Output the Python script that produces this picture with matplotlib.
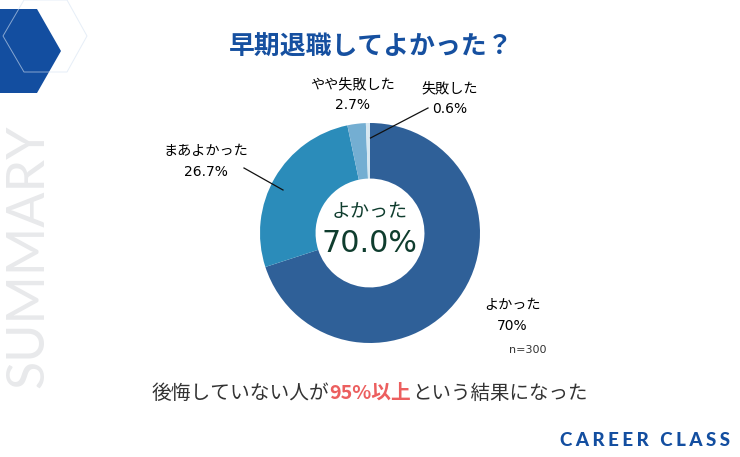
import matplotlib
matplotlib.use('Agg')
import matplotlib.pyplot as plt
from matplotlib.patches import Polygon

plt.rcParams['font.family'] = ['Noto Sans CJK JP', 'DejaVu Sans']

labels = ['よかった', 'まあよかった', 'やや失敗した', '失敗した']
values = [70.0, 26.7, 2.7, 0.6]
value_labels = ['70%', '26.7%', '2.7%', '0.6%']
colors = ['#2f6098', '#2b8cba', '#74aed2', '#d6e7f1']

W, H = 740, 457
fig = plt.figure(figsize=(W / 100, H / 100), dpi=100)

# background layer in pixel coords
bg = fig.add_axes([0, 0, 1, 1])
bg.set_xlim(0, W)
bg.set_ylim(H, 0)
bg.axis('off')

bg.add_patch(Polygon([(0, 9), (37, 9), (61, 51), (37, 93), (0, 93)], color='#134ea0', lw=0))
bg.add_patch(Polygon([(3, 36), (24, 0), (67, 0), (87, 36), (67, 72), (24, 72)],
                     fill=False, ec='#d5e2f2', lw=0.7, alpha=0.6))

bg.text(29, 256.5, 'SUMMARY', rotation=90, ha='center', va='center', fontsize=37.5,
        family=['Lato', 'DejaVu Sans'], color='#e8e9eb')

bg.text(371, 47, '早期退職してよかった？', ha='center', va='center', fontsize=18.6,
        fontweight='bold', color='#1650a0')

# donut
ax = fig.add_axes([260 / W, 1 - 343 / H, 220 / W, 220 / H], zorder=2)
ax.pie(values, colors=colors, startangle=90, counterclock=False, radius=1,
       wedgeprops=dict(width=0.505, linewidth=0))
ax.set_xlim(-1, 1)
ax.set_ylim(-1, 1)

# text and leader lines on top
fg = fig.add_axes([0, 0, 1, 1], zorder=3)
fg.set_xlim(0, W)
fg.set_ylim(H, 0)
fg.axis('off')
fg.patch.set_alpha(0)

fg.text(370, 212, labels[0], ha='center', va='center', fontsize=13.7, color='#0f3d2e')
fg.text(369.5, 243, '70.0%', ha='center', va='center', fontsize=21.7, color='#0f3d2e',
        family=['DejaVu Sans'])

label_pos = [(512, 305), (206, 151), (353, 84), (450, 88)]
for i in range(4):
    x, y = label_pos[i]
    fg.text(x, y, labels[i], ha='center', va='center', fontsize=10.2, color='#000000')
    fg.text(x, y + 21, value_labels[i], ha='center', va='center',
            fontsize=10, color='#000000', family=['DejaVu Sans'])

fg.plot([244, 283], [168, 190], color='#111111', lw=0.9)
fg.plot([370.5, 428], [138, 108], color='#111111', lw=0.9)

fg.text(528, 350, 'n=300', ha='center', va='center', fontsize=8, color='#333333',
        family=['DejaVu Sans'])

y = 393
fg.text(152, y, '後悔していない人が', ha='left', va='center', fontsize=14.2, color='#333333')
fg.text(329, y, '95%以上', ha='left', va='center', fontsize=14.2, fontweight='bold', color='#ec5f5f')
fg.text(412, y, 'という結果になった', ha='left', va='center', fontsize=14, color='#333333')

fg.text(645, 440, '\u2009\u200a'.join('CAREER CLASS'), ha='center', va='center', fontsize=13.5, fontweight='black',
        family=['Lato', 'DejaVu Sans'], color='#134ea0')

fig.savefig('out.png', dpi=100)
